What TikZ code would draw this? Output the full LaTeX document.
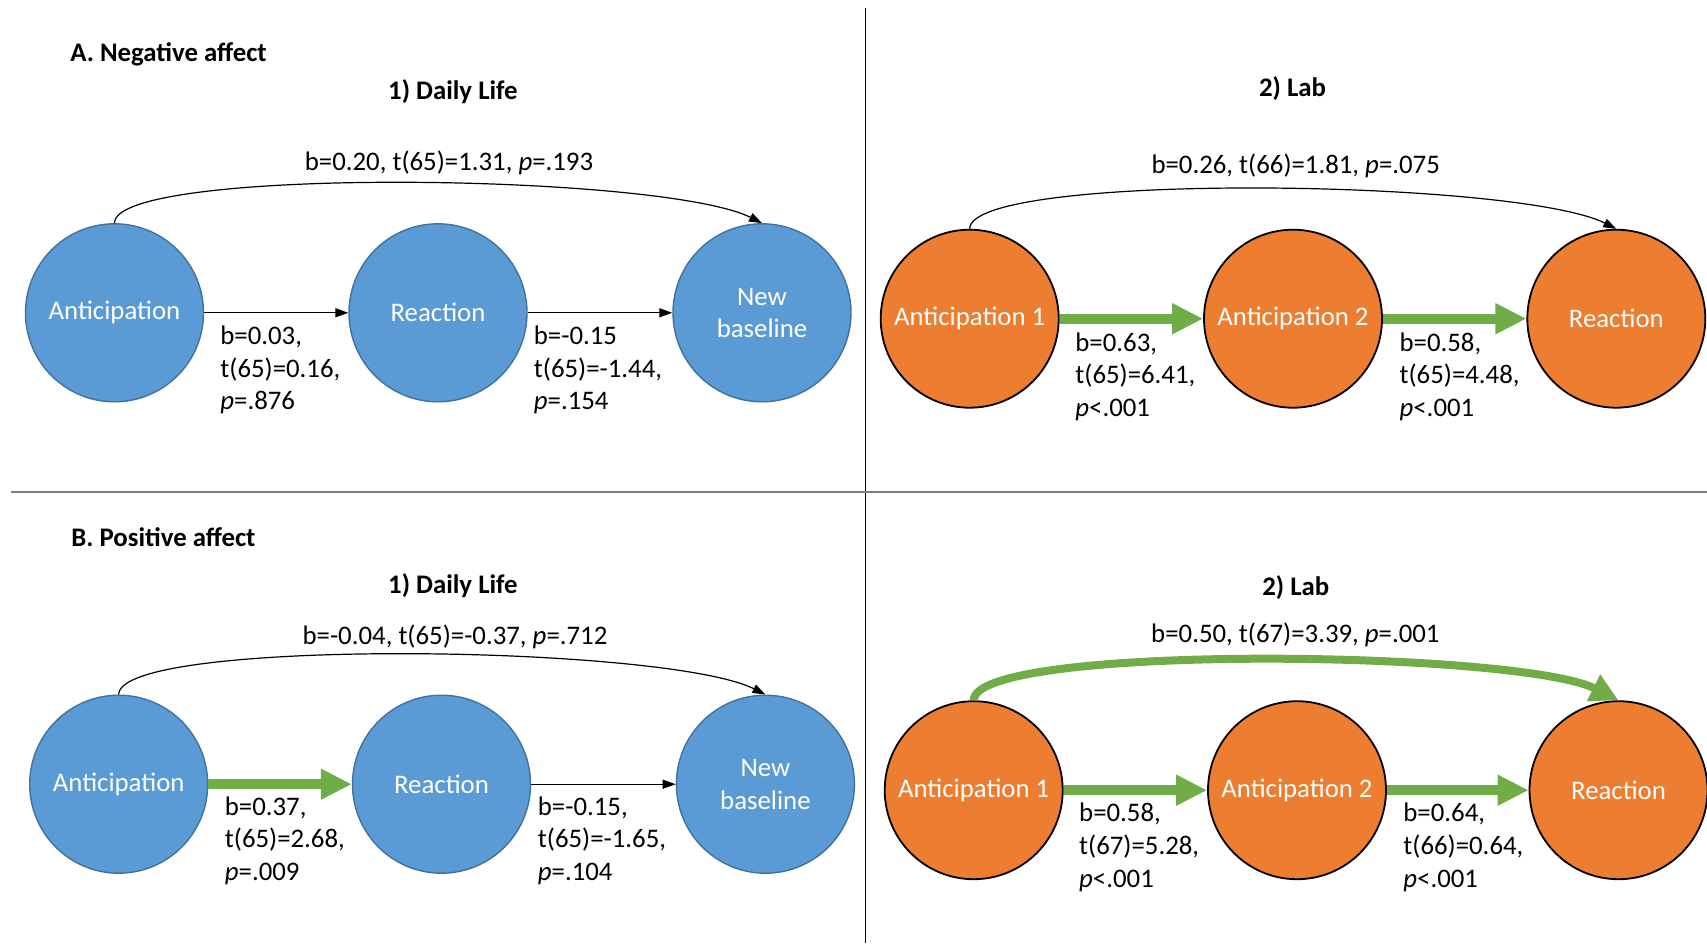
\documentclass[tikz,border=0pt]{standalone}
\usepackage{fontspec}
\setmainfont{Carlito}
\usetikzlibrary{arrows.meta}
\definecolor{bfill}{HTML}{5B9BD5}
\definecolor{bdraw}{HTML}{41719C}
\definecolor{ofill}{HTML}{ED7D31}
\definecolor{grn}{HTML}{70AD47}
\definecolor{rulegray}{HTML}{808080}
\newcommand{\lblfont}{\fontsize{13.4pt}{16.3pt}\selectfont}
\begin{document}
\begin{tikzpicture}[x=0.5pt,y=-0.5pt,
  every node/.style={font=\lblfont, inner sep=0pt},
  bnode/.style={circle, draw=bdraw, line width=0.7pt, fill=bfill, minimum size=89pt, text=white, align=center},
  onode/.style={circle, draw=black, line width=0.9pt, fill=ofill, minimum size=89pt, text=white, align=center},
  thinarrow/.style={line width=0.6pt, -{Triangle[length=6.5pt,width=4.5pt]}},
  fatarrow/.style={draw=grn, line width=5pt, -{Triangle[length=15.5pt,width=14.5pt]}},
  fatarc/.style={draw=grn, line width=4pt, -{Triangle[length=14pt,width=14pt]}},
  heading/.style={font=\lblfont\bfseries, anchor=base west},
  subhead/.style={font=\lblfont\bfseries, anchor=base},
  stat/.style={anchor=west, align=left},
  arclabel/.style={anchor=base},
]
\useasboundingbox (0,0) rectangle (1707,943);

% dividers
\draw[line width=0.6pt, black] (865.5,8) -- (865.5,943);
\draw[line width=1pt, rulegray] (11,491.7) -- (1707,491.7);

% headings
\node[heading] (hA) at (70,61.7) {A. Negative affect};
\node[subhead] (hA1) at (452.9,99.3) {1) Daily Life};
\node[subhead] (hA2) at (1292.5,96) {2) Lab};
\node[heading] (hB) at (71,546.7) {B. Positive affect};
\node[subhead] (hB1) at (452.9,593.3) {1) Daily Life};
\node[subhead] (hB2) at (1295.8,595) {2) Lab};

% ---------- A1 ----------
\node[bnode] (a1ant) at (114.5,312.8) {Anticipation};
\node[bnode] (a1rea) at (438,312.8) {Reaction};
\node[bnode] (a1nb) at (762,312.8) {New\\baseline};
\draw[thinarrow] (a1ant) -- (a1rea);
\draw[thinarrow] (a1rea) -- (a1nb);
\draw[thinarrow] (a1ant.north) .. controls +(0,-57) and +(-100,-50) .. (a1nb.north);
\node[arclabel] (a1top) at (449,170.7) {b=0.20, t(65)=1.31, \textit{p}=.193};
\node[stat] (a1s1) at (220,370) {b=0.03,\\t(65)=0.16,\\\textit{p}=.876};
\node[stat] (a1s2) at (533.5,370) {b=-0.15\\t(65)=-1.44,\\\textit{p}=.154};

% ---------- A2 ----------
\node[onode] (a2ant1) at (969.7,318.7) {Anticipation 1};
\node[onode] (a2ant2) at (1293,318.7) {Anticipation 2};
\node[onode] (a2rea) at (1616.3,318.7) {Reaction};
\draw[fatarrow] (a2ant1) -- (a2ant2);
\draw[fatarrow] (a2ant2) -- (a2rea);
\draw[thinarrow] (a2ant1.north) .. controls +(0,-57) and +(-100,-50) .. (a2rea.north);
\node[arclabel] (a2top) at (1295.7,173.3) {b=0.26, t(66)=1.81, \textit{p}=.075};
\node[stat] (a2s1) at (1075,376.7) {b=0.63,\\t(65)=6.41,\\\textit{p}<.001};
\node[stat] (a2s2) at (1399.2,376.7) {b=0.58,\\t(65)=4.48,\\\textit{p}<.001};

% ---------- B1 ----------
\node[bnode] (b1ant) at (118.7,784.2) {Anticipation};
\node[bnode] (b1rea) at (441.5,784.2) {Reaction};
\node[bnode] (b1nb) at (765.4,784.2) {New\\baseline};
\draw[fatarrow] (b1ant) -- (b1rea);
\draw[thinarrow] (b1rea) -- (b1nb);
\draw[thinarrow] (b1ant.north) .. controls +(0,-57) and +(-100,-50) .. (b1nb.north);
\node[arclabel] (b1top) at (455,644.3) {b=-0.04, t(65)=-0.37, \textit{p}=.712};
\node[stat] (b1s1) at (224.5,840.7) {b=0.37,\\t(65)=2.68,\\\textit{p}=.009};
\node[stat] (b1s2) at (537.5,840.7) {b=-0.15,\\t(65)=-1.65,\\\textit{p}=.104};

% ---------- B2 ----------
\node[onode] (b2ant1) at (973.7,790.2) {Anticipation 1};
\node[onode] (b2ant2) at (1297,790.2) {Anticipation 2};
\node[onode] (b2rea) at (1618.5,790.2) {Reaction};
\draw[fatarrow] (b2ant1) -- (b2ant2);
\draw[fatarrow] (b2ant2) -- (b2rea);
\draw[fatarc] (b2ant1.north) .. controls +(0,-57) and +(-100,-50) .. (b2rea.north);
\node[arclabel] (b2top) at (1295.4,642.3) {b=0.50, t(67)=3.39, \textit{p}=.001};
\node[stat] (b2s1) at (1078.8,847.3) {b=0.58,\\t(67)=5.28,\\\textit{p}<.001};
\node[stat] (b2s2) at (1403,847.3) {b=0.64,\\t(66)=0.64,\\\textit{p}<.001};
\end{tikzpicture}
\end{document}
